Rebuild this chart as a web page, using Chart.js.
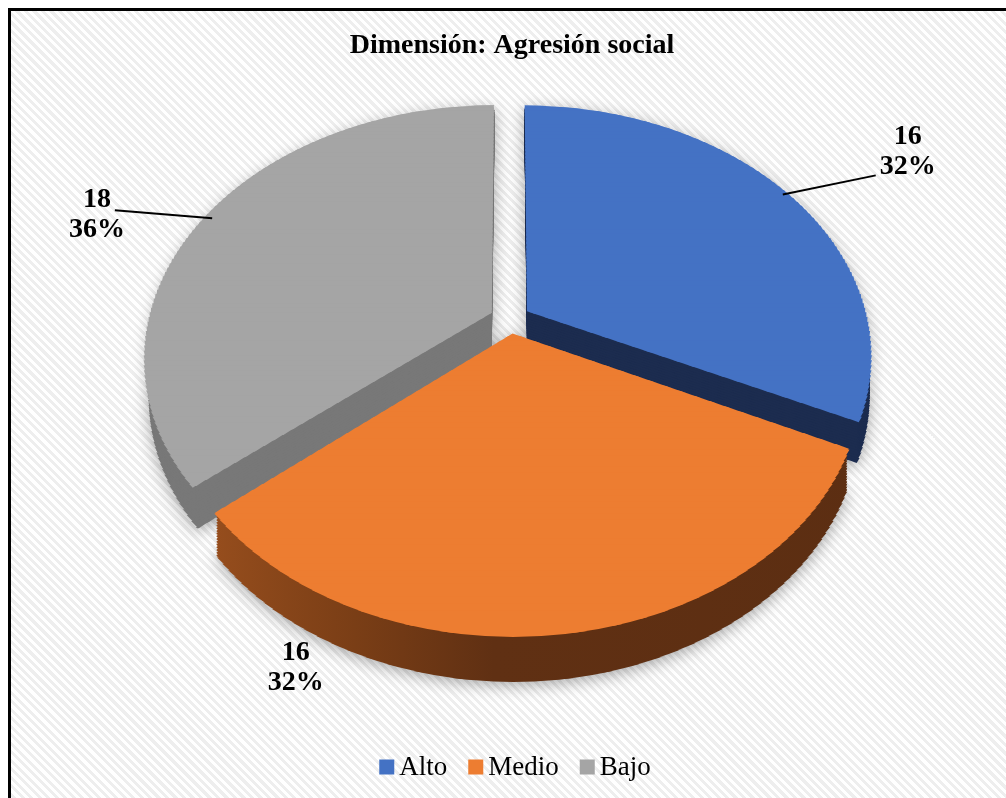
<!DOCTYPE html>
<html>
<head>
<meta charset="utf-8">
<script src="https://cdn.jsdelivr.net/npm/chart.js@4.4.1/dist/chart.umd.min.js"></script>
<style>
html, body { margin: 0; padding: 0; background: #fff; }
#frame {
    position: absolute; left: 8px; top: 8px; width: 1006px; height: 798px;
    border-left: 3px solid #000; border-top: 3px solid #000;
    background: repeating-linear-gradient(45deg, #ffffff 0px, #ffffff 3px, #eeeeee 3px, #eeeeee 6px);
}
#wrap { position: absolute; left: 0; top: 0; width: 1006px; height: 798px; }
</style>
</head>
<body>
<div id="frame"></div>
<div id="wrap"><canvas id="AgresionChart" width="1006" height="798"></canvas></div>
<script>
// datos
var categories = ["Alto", "Medio", "Bajo"];
var counts = [16, 16, 18];
var percents = ["32%", "32%", "36%"];

var topColors = ["#4472C4", "#ED7D31", "#A5A5A5"];
var sideColors = ["#1C2C4F", "orange", "#787878"];

// vista en perspectiva del pastel (pantalla)
var proj = { cx: 510, cy: 319, S: 338, B: 243, k: 0.1745, D: 38.4 };
var strips = 120, yMin = -1.15, yMax = 1.15, layers = 16;

var labelFactor = [1.491, 1.204, 1.341];
var labelShift = [2.1, 32.5, -6.1];   // grados
var showLeader = [true, false, true];
var labelFont = "bold 28px 'Liberation Serif'";
var legendFont = "27px 'Liberation Serif'";

function projY(Y) { return proj.cy + proj.B * Y / (1 - proj.k * Y); }

function sliceCenter(arc) {
    var mid = (arc.startAngle + arc.endAngle) / 2;
    var off = (arc.options.offset || 0) / 4;
    return { x: arc.x + Math.cos(mid) * off, y: arc.y + Math.sin(mid) * off, mid: mid };
}

function slicePath(ctx, arc) {
    var c = sliceCenter(arc);
    ctx.beginPath();
    ctx.moveTo(c.x, c.y);
    ctx.arc(c.x, c.y, arc.outerRadius, arc.startAngle, arc.endAngle);
    ctx.closePath();
}

function getView(chart) {
    var a0 = chart.getDatasetMeta(0).data[0];
    var v = { ox: a0.x, oy: a0.y, r: a0.outerRadius, list: [] };
    var h = (yMax - yMin) / strips;
    for (var j = 0; j < strips; j++) {
        var Ya = yMin + j * h, Yb = Ya + h;
        var w = 1 - proj.k * (Ya + h / 2);
        var yA = projY(Ya), yB = projY(Yb);
        var sy = (yB - yA) / (h * v.r);
        v.list.push({
            sx: proj.S / (v.r * w), sy: sy, yA: yA, pyA: v.oy + Ya * v.r,
            top: j === 0 ? -100000 : v.oy + Ya * v.r - 2 / sy,
            bot: j === strips - 1 ? 100000 : v.oy + Yb * v.r,
            depth: proj.D / w
        });
    }
    return v;
}

function applyStrip(ctx, v, s, dd) {
    ctx.translate(proj.cx, s.yA + dd);
    ctx.scale(s.sx, s.sy);
    ctx.translate(-v.ox, -s.pyA);
    ctx.beginPath();
    ctx.rect(-100000, s.top, 200000, s.bot - s.top);
    ctx.clip();
}

function toScreen(v, px, py) {
    var X = (px - v.ox) / v.r, Y = (py - v.oy) / v.r;
    var w = 1 - proj.k * Y;
    return { x: proj.cx + proj.S * X / w, y: proj.cy + proj.B * Y / w };
}

var pie3d = {
    id: 'pie3d',
    beforeDatasetsDraw: function (chart) {
        var ctx = chart.ctx;
        var v = getView(chart);
        var meta = chart.getDatasetMeta(0);

        // sombra suave: silueta en un lienzo aparte
        var off = document.createElement('canvas');
        off.width = chart.canvas.width;
        off.height = chart.canvas.height;
        var octx = off.getContext('2d');
        octx.setTransform(ctx.getTransform());
        octx.fillStyle = "#000";
        v.list.forEach(function (s) {
            meta.data.forEach(function (arc) {
                [s.depth, 0].forEach(function (dd) {
                    octx.save();
                    applyStrip(octx, v, s, dd);
                    slicePath(octx, arc);
                    octx.fill();
                    octx.restore();
                });
            });
        });
        ctx.save();
        ctx.setTransform(1, 0, 0, 1, 0, 0);
        ctx.shadowColor = "rgba(0,0,0,0.35)";
        ctx.shadowBlur = 16;
        ctx.shadowOffsetX = -10000;
        ctx.shadowOffsetY = 3;
        ctx.drawImage(off, 10000, 0);
        ctx.restore();

        var grad = ctx.createLinearGradient(v.ox - v.r, 0, v.ox + v.r, 0);
        grad.addColorStop(0.0, "#a85820");
        grad.addColorStop(0.08, "#9b501e");
        grad.addColorStop(0.31, "#7a3e16");
        grad.addColorStop(0.48, "#603013");
        grad.addColorStop(1.0, "#5c2e12");

        // caras laterales
        for (var t = layers; t > 0; t--) {
            v.list.forEach(function (s) {
                meta.data.forEach(function (arc, i) {
                    ctx.save();
                    applyStrip(ctx, v, s, s.depth * t / layers);
                    slicePath(ctx, arc);
                    ctx.fillStyle = sideColors[i] === "orange" ? grad : sideColors[i];
                    ctx.fill();
                    ctx.restore();
                });
            });
        }

        // caras superiores con los propios arcos de Chart.js
        v.list.forEach(function (s) {
            meta.data.forEach(function (arc) {
                ctx.save();
                applyStrip(ctx, v, s, 0);
                arc.draw(ctx);
                ctx.restore();
            });
        });
        return false;
    },
    afterDraw: function (chart) {
        var ctx = chart.ctx;
        var v = getView(chart);
        var meta = chart.getDatasetMeta(0);
        ctx.save();
        ctx.font = labelFont;
        ctx.fillStyle = "#000";
        ctx.strokeStyle = "#000";
        ctx.lineWidth = 2;
        ctx.textAlign = "center";
        ctx.textBaseline = "middle";
        meta.data.forEach(function (arc, i) {
            var c = sliceCenter(arc);
            var la = c.mid + labelShift[i] * Math.PI / 180;
            var p = toScreen(v, c.x + Math.cos(la) * arc.outerRadius * labelFactor[i],
                                c.y + Math.sin(la) * arc.outerRadius * labelFactor[i]);
            var lines = [String(counts[i]), percents[i]];
            ctx.fillText(lines[0], p.x, p.y - 15);
            ctx.fillText(lines[1], p.x, p.y + 15);

            if (showLeader[i]) {
                var rim = toScreen(v, c.x + Math.cos(c.mid) * arc.outerRadius * 0.99,
                                      c.y + Math.sin(c.mid) * arc.outerRadius * 0.99);
                var ey = Math.max(p.y - 24, Math.min(p.y + 24, rim.y - 8));
                var line = ey > p.y + 10 ? lines[1] : lines[0];
                var hw = ctx.measureText(line).width / 2 + 4;
                var ex = rim.x > p.x ? p.x + hw : p.x - hw;
                ctx.beginPath();
                ctx.moveTo(rim.x, rim.y);
                ctx.lineTo(ex, ey);
                ctx.stroke();
            }
        });

        // leyenda
        ctx.font = legendFont;
        ctx.textAlign = "left";
        var box = 15, gap = 5, between = 21;
        var total = 0;
        categories.forEach(function (c, i) {
            total += box + gap + ctx.measureText(c).width + (i < categories.length - 1 ? between : 0);
        });
        var lx = 515 - total / 2, ly = 767;
        categories.forEach(function (c, i) {
            ctx.fillStyle = topColors[i];
            ctx.fillRect(lx, ly - box / 2, box, box);
            ctx.fillStyle = "#000";
            ctx.fillText(c, lx + box + gap, ly + 1);
            lx += box + gap + ctx.measureText(c).width + between;
        });
        ctx.restore();
    }
};

var agresionChart = document.getElementById("AgresionChart").getContext('2d');
var myPieChart = new Chart(agresionChart, {
    type: 'pie',
    data: {
        labels: categories,
        datasets: [
            {
                data: counts,
                backgroundColor: topColors,
                borderWidth: 0,
                offset: 70,
                clip: false
            }
        ]
    },
    options: {
        responsive: false,
        animation: false,
        events: [],
        layout: { padding: { left: 18, bottom: 60 } },
        plugins: {
            title: {
                display: true,
                text: "Dimensión: Agresión social",
                color: "#000",
                font: { family: "'Liberation Serif'", size: 28, weight: "bold" },
                padding: { top: 29, bottom: 20 }
            },
            legend: { display: false },
            tooltip: { enabled: false }
        }
    },
    plugins: [pie3d]
});
</script>
</body>
</html>
